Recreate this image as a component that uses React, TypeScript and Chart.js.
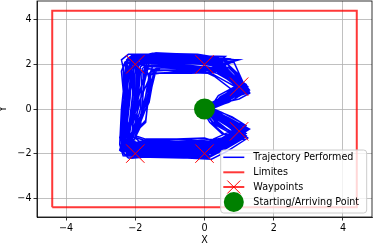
import React, { useEffect, useRef } from "react";
import { Chart, registerables } from "chart.js";

Chart.register(...registerables);

// Trajectory performed (several laps, hand-estimated)
const trajX = [
  0.05, 0.55, 1.05, 0.45, 0.0, -1.0, -2.05, -2.2, -2.05, -2.0, -1.7, -0.5, 0.35, 1.1, 0.55,
  0.1, 0.7, 1.15, 0.6, 0.1, -1.1, -2.2, -2.35, -2.25, -2.25, -1.9, -0.6, 0.3, 1.2, 0.6,
  0.0, 0.45, 0.95, 0.3, -0.1, -1.2, -2.1, -2.3, -1.8, -1.75, -1.5, -0.4, 0.5, 1.05, 0.45,
  0.15, 0.75, 1.2, 0.55, 0.05, -0.9, -2.3, -2.4, -2.3, -2.35, -2.1, -1.2, 0.1, 0.45, 1.25, 0.65,
  0.05, 0.6, 1.0, 0.4, -0.05, -1.3, -1.9, -2.0, -1.65, -1.6, -1.3, -0.2, 0.55, 1.0, 0.4,
  0.1, 0.65, 1.1, 0.35, -0.1, -1.1, -2.2, -2.4, -2.35, -2.15, -2.0, -1.0, 0.2, 0.8, 0.5, 1.15, 0.5,
  0.0, 0.5, 1.0, 0.5, 0.2, -1.5, -2.0, -2.15, -1.95, -1.9, -1.8, -0.8, 0.0, 0.4, 1.15, 0.55,
  0.05, 0.8, 1.1, 0.45, 0.0, -1.0, -2.15, -2.3, -2.15, -2.1, -2.2, -1.5, -0.2, 0.35, 1.2, 0.6,
  0.1, 0.6, 1.05, 0.5, 0.05, -0.9, -2.1, -2.25, -1.7, -1.55, -1.35, -0.3, 0.3, 1.1, 0.55,
  0.0, 0.55, 1.15, 0.55, 0.1, -1.2, -2.3, -2.4, -2.2, -2.3, -2.0, -1.0, 0.3, 0.9, 0.4, 1.2, 0.6,
  0.1, 0.7, 1.05, 0.4, -0.1, -1.4, -1.95, -2.1, -1.85, -1.8, -1.6, -0.6, 0.2, 0.45, 1.05, 0.5,
  0.05, 0.65, 1.2, 0.6, 0.1, -0.6, -1.8, -2.3, -2.3, -2.2, -2.05, -1.0, 0.2, 0.4, 1.25, 0.55,
  0.1, 0.6, 1.0, 0.5, 0.0, -1.6, -2.15, -2.25, -2.0, -1.95, -1.75, -0.7, 0.1, 0.5, 1.1, 0.5,
  0.05, 0.7, 1.1, 0.45, 0.05, -1.0, -2.2, -2.35, -2.1, -2.05, -1.85, -0.4, 0.3, 1.15, 0.55,
  0.0, 0.6, 1.05, 0.4, -0.05, -1.3, -2.05, -2.2, -1.6, -1.45, -1.2, -0.3, 0.35, 1.05, 0.0,
  0.05, 0.5, 0.9, 0.25, -0.2, -1.0, -1.75, -2.05, -2.1, -1.9, -1.85, -1.6, -0.9, 0.0, 0.25, 0.95, 0.3,
  0.1, 0.75, 1.25, 0.65, 0.2, -0.5, -1.5, -2.35, -2.45, -2.4, -2.3, -2.4, -2.2, -1.4, -0.3, 0.6, 1.3, 0.7,
  0.0, 0.6, 1.1, 0.5, 0.0, -1.2, -2.0, -2.3, -2.0, -1.6, -1.5, -1.45, -0.9, 0.1, 0.55, 1.15, 0.45,
  0.05, 0.65, 1.15, 0.5, 0.05, -1.1, -2.1, -2.3, -2.35, -2.25, -2.2, -2.25, -1.6, -0.5, 0.6, 0.35, 1.2, 0.55,
  0.1, 0.55, 1.0, 0.35, -0.1, -1.3, -2.2, -2.4, -1.95, -1.75, -1.7, -1.45, -0.5, 0.4, 1.0, 0.45,
  0.05, 0.7, 1.2, 0.55, 0.15, -1.0, -2.1, -2.25, -2.0, -2.05, -1.95, -1.3, -0.2, 0.7, 0.4, 1.2, 0.6,
  0.0, 0.5, 1.05, 0.45, -0.05, -1.5, -2.05, -2.2, -1.7, -1.6, -1.55, -1.3, -0.4, 0.3, 1.1, 0.5,
  0.1, 0.6, 1.1, 0.5, 0.1, -1.0, -1.9, -2.4, -2.4, -2.3, -2.35, -2.2, -1.1, 0.0, 0.5, 1.25, 0.6,
  0.05, 0.55, 0.95, 0.35, -0.1, -1.1, -2.0, -2.15, -2.05, -1.85, -1.7, -1.75, -0.9, 0.2, 1.05, 0.5,
  0.0, 0.65, 1.2, 0.5, 0.0, -1.3, -2.25, -2.45, -2.3, -2.0, -1.9, -2.0, -1.6, -0.6, 0.4, 0.85, 1.2, 0.55,
  0.1, 0.6, 1.05, 0.45, 0.0, -0.8, -1.9, -2.1, -1.9, -1.7, -1.6, -1.5, -1.0, 0.0, 0.45, 1.1, 0.5,
  0.05, 0.7, 1.15, 0.6, 0.1, -0.9, -2.0, -2.3, -2.25, -2.15, -2.1, -2.0, -1.2, -0.1, 0.5, 1.2, 0.55,
  0.0, 0.55, 1.1, 0.45, 0.05, -1.2, -2.2, -2.35, -2.25, -2.3, -2.0, -1.5, -0.5, 0.2, 1.15, 0.5,
  0.1, 0.65, 1.05, 0.4, -0.05, -1.2, -1.85, -2.0, -1.85, -1.65, -1.55, -1.35, -0.6, 0.15, 0.4, 1.05, 0.45,
  0.05, 0.6, 1.15, 0.55, 0.1, -0.7, -1.6, -2.25, -2.4, -2.35, -2.2, -2.15, -1.7, -0.8, 0.3, 0.5, 1.2, 0.05,
  0.15, 0.45, 0.9, 1.2, 0.7, 0.3, -0.4, -1.6, -2.3, -2.4, -2.2, -2.1, -1.4, -0.2, 0.5, 0.95, 1.3, 0.8, 0.25,
  0.0, 0.2, 0.75, 0.95, 0.2, 0.0, -0.8, -1.7, -2.0, -1.8, -1.55, -1.45, -0.8, 0.1, 0.3, 0.85, 0.25,
  0.1, 0.6, 1.1, 0.8, 0.35, -0.6, -1.9, -2.25, -2.2, -2.05, -2.15, -1.2, -0.4, 0.55, 0.75, 1.1, 0.6, 0.1,
  0.05, 0.35, 1.0, 0.6, 0.05, -1.1, -2.1, -2.35, -1.9, -1.6, -1.7, -0.5, 0.35, 1.15, 0.7, 0.2,
  0.1, 0.7, 1.3, 0.9, 0.4, -0.3, -1.2, -2.05, -2.3, -2.25, -1.95, -1.8, -1.0, 0.0, 0.6, 1.05, 0.4,
  0.0, 0.4, 0.85, 0.3, -0.2, -1.3, -2.1, -2.2, -1.85, -1.75, -1.6, -0.7, 0.2, 0.7, 1.25, 0.65, 0.1,
  0.1, 0.55, 1.05, 0.55, 0.2, -0.8, -2.25, -2.45, -2.3, -2.4, -2.3, -1.1, 0.1, 0.45, 1.2, 0.75, 0.2,
  0.05, 0.8, 1.2, 0.75, 0.1, -0.5, -1.4, -2.15, -2.3, -2.0, -1.9, -2.05, -1.5, -0.2, 0.4, 1.0, 0.35,
  0.0, 0.3, 0.95, 0.5, 0.0, -1.4, -2.05, -2.2, -1.9, -1.55, -1.4, -0.6, 0.1, 0.5, 1.15, 0.5,
  0.1, 0.75, 1.15, 0.65, 0.1, -1.0, -2.0, -2.35, -2.35, -2.2, -2.25, -2.1, -0.9, 0.3, 1.0, 0.55, 1.2, 0.6, 0.15,
  0.2, 0.5, 1.0, 1.25, 0.6, 0.2, -1.0, -2.0, -2.2, -2.0, -1.9, -1.0, 0.2, 0.6, 1.3, 1.0, 0.3,
  0.0, 0.15, 0.5, 1.1, 0.4, -0.3, -1.5, -2.15, -2.3, -2.15, -2.0, -0.9, 0.0, 0.35, 0.9, 1.0, 0.6, 0.2,
  0.15, 0.4, 0.8, 1.2, 0.8, 0.3, -0.9, -2.2, -2.3, -2.2, -2.25, -1.7, -0.6, 0.5, 0.6, 1.2, 0.9, 0.4,
  0.05, 0.25, 0.7, 1.0, 0.3, -0.6, -1.8, -2.1, -1.95, -1.85, -1.3, -0.2, 0.3, 0.8, 1.25, 0.5, 0.0,
];
const trajY = [
  -0.05, -0.55, -1.0, -1.55, -1.8, -1.75, -1.8, -1.5, 0.1, 1.95, 2.15, 2.1, 1.95, 0.95, 0.45,
  0.0, -0.5, -0.95, -1.45, -1.6, -1.5, -1.6, -1.3, 0.3, 2.0, 2.3, 2.3, 2.1, 0.85, 0.35,
  -0.1, -0.7, -1.2, -1.75, -2.0, -1.95, -2.05, -1.75, -0.2, 1.75, 2.0, 1.95, 1.8, 1.05, 0.55,
  -0.05, -0.65, -1.1, -1.7, -1.9, -1.85, -1.9, -1.5, 0.0, 1.9, 2.35, 2.3, 2.2, 2.0, 0.8, 0.4,
  0.05, -0.45, -0.85, -1.4, -1.5, -1.4, -1.45, -1.2, 0.2, 1.6, 1.85, 1.8, 1.65, 1.1, 0.6,
  -0.1, -0.75, -1.3, -1.85, -2.15, -2.1, -2.2, -1.9, -0.5, 1.85, 2.2, 2.4, 2.3, 2.1, 1.9, 1.0, 0.35,
  0.0, -0.6, -1.1, -1.6, -1.75, -1.7, -1.75, -1.45, -0.3, 1.7, 2.05, 2.0, 2.05, 1.85, 0.9, 0.5,
  -0.15, -0.8, -1.15, -1.65, -2.05, -2.0, -1.95, -1.6, 0.5, 2.05, 2.3, 2.25, 2.2, 2.05, 1.0, 0.5,
  0.05, -0.5, -1.05, -1.5, -1.7, -1.6, -1.7, -1.4, -0.6, 1.55, 1.75, 1.7, 1.75, 1.0, 0.4,
  -0.05, -0.65, -1.2, -1.75, -2.0, -2.0, -2.05, -1.7, 0.2, 2.1, 2.4, 2.35, 2.3, 2.2, 2.0, 0.9, 0.4,
  -0.05, -0.6, -0.95, -1.45, -1.6, -1.55, -1.6, -1.3, 0.0, 1.8, 2.1, 2.05, 2.0, 1.9, 0.95, 0.45,
  0.0, -0.7, -1.25, -1.8, -2.2, -2.15, -2.1, -1.85, -0.8, 1.9, 2.2, 2.15, 2.15, 1.95, 0.85, 0.35,
  -0.1, -0.55, -1.0, -1.55, -1.75, -1.65, -1.7, -1.45, 0.5, 1.85, 2.2, 2.2, 2.1, 1.85, 1.0, 0.45,
  -0.05, -0.75, -1.05, -1.6, -1.85, -1.8, -1.8, -1.55, -0.2, 2.0, 2.25, 2.15, 2.0, 0.95, 0.45,
  0.0, -0.6, -1.1, -1.7, -1.9, -1.85, -1.9, -1.6, 0.3, 1.6, 1.95, 1.9, 1.85, 1.0, 0.0,
  0.0, -0.5, -0.9, -1.35, -1.4, -1.35, -1.4, -1.25, -0.4, 0.8, 1.65, 1.8, 1.7, 1.65, 1.55, 0.95, 0.3,
  -0.05, -0.7, -1.3, -1.9, -2.25, -2.2, -2.15, -2.1, -1.6, 0.0, 1.5, 2.2, 2.45, 2.45, 2.4, 2.15, 0.85, 0.3,
  -0.05, -0.65, -1.15, -1.65, -1.8, -1.75, -1.85, -1.55, -0.8, 0.5, 1.4, 1.7, 1.75, 1.7, 1.7, 0.95, 0.4,
  -0.1, -0.6, -1.0, -1.5, -1.7, -1.65, -1.7, -1.45, -0.7, 0.6, 1.5, 2.15, 2.4, 2.4, 2.35, 2.05, 0.9, 0.4,
  0.0, -0.55, -0.95, -1.5, -1.65, -1.6, -1.7, -1.4, -0.2, 1.0, 1.85, 2.0, 1.85, 1.8, 1.05, 0.5,
  -0.05, -0.7, -1.2, -1.75, -2.1, -2.05, -2.15, -1.8, -0.6, 1.2, 2.3, 2.45, 2.35, 2.25, 2.05, 0.95, 0.4,
  -0.05, -0.5, -1.05, -1.45, -1.55, -1.5, -1.55, -1.35, -0.5, 0.7, 1.55, 1.6, 1.6, 1.65, 0.95, 0.4,
  -0.1, -0.7, -1.2, -1.7, -1.95, -1.9, -1.9, -1.65, -0.9, 0.5, 1.9, 2.3, 2.35, 2.3, 2.05, 0.85, 0.4,
  0.0, -0.5, -0.95, -1.6, -1.85, -1.8, -1.9, -1.7, -0.5, 0.9, 1.65, 1.95, 1.9, 1.85, 1.05, 0.5,
  -0.05, -0.7, -1.25, -1.8, -2.05, -2.05, -2.1, -1.85, -1.0, 0.0, 1.2, 2.0, 2.2, 2.15, 2.05, 2.1, 0.9, 0.35,
  0.0, -0.55, -1.1, -1.5, -1.65, -1.55, -1.55, -1.4, -0.6, 0.6, 1.5, 1.9, 1.95, 1.9, 1.8, 1.0, 0.45,
  -0.05, -0.6, -1.05, -1.55, -1.75, -1.7, -1.75, -1.5, -0.3, 0.9, 1.8, 2.1, 2.1, 2.0, 1.9, 1.0, 0.4,
  -0.1, -0.65, -1.15, -1.7, -2.0, -1.95, -2.0, -1.7, 0.0, 1.4, 2.25, 2.35, 2.3, 2.2, 0.95, 0.45,
  0.0, -0.55, -0.95, -1.4, -1.55, -1.45, -1.5, -1.3, -0.4, 0.9, 1.7, 1.85, 1.8, 1.75, 1.75, 1.05, 0.5,
  -0.05, -0.7, -1.2, -1.8, -2.15, -2.1, -2.05, -2.0, -1.3, 0.2, 1.6, 2.1, 2.35, 2.3, 2.25, 2.0, 0.9, 0.05,
  0.1, -0.2, -0.6, -0.95, -1.4, -1.65, -1.75, -1.7, -1.75, -1.4, 0.4, 2.25, 2.5, 2.45, 2.25, 1.6, 0.75, 0.5, 0.15,
  -0.15, -0.55, -1.0, -1.15, -1.4, -1.3, -1.35, -1.35, -1.2, -0.3, 1.2, 1.6, 1.65, 1.6, 1.45, 0.8, 0.25,
  0.0, -0.35, -0.85, -1.3, -1.95, -2.2, -2.15, -2.0, -1.0, 1.0, 2.15, 2.35, 2.2, 2.0, 1.65, 1.05, 0.6, 0.2,
  -0.1, -0.65, -1.2, -1.6, -1.7, -1.6, -1.65, -1.5, 0.3, 1.35, 1.9, 1.85, 1.7, 0.75, 0.55, 0.05,
  0.05, -0.4, -0.9, -1.3, -1.55, -1.6, -1.55, -1.6, -1.2, 0.2, 1.9, 2.25, 2.35, 2.3, 2.15, 1.2, 0.3,
  -0.05, -0.6, -1.15, -1.85, -2.2, -2.1, -2.2, -1.9, -0.8, 1.1, 2.05, 2.1, 2.05, 1.85, 1.0, 0.6, 0.1,
  0.05, -0.45, -1.0, -1.5, -1.6, -1.55, -1.55, -1.3, 0.0, 1.7, 2.1, 2.15, 2.1, 1.75, 0.95, 0.45, 0.0,
  -0.1, -0.55, -0.9, -1.5, -1.95, -1.95, -1.9, -1.85, -1.4, 0.3, 1.55, 2.3, 2.5, 2.45, 2.3, 1.15, 0.35,
  -0.1, -0.7, -1.25, -1.65, -1.65, -1.55, -1.55, -1.35, -0.6, 0.8, 1.75, 1.75, 1.7, 1.55, 1.05, 0.5,
  0.0, -0.6, -1.05, -1.55, -2.05, -2.1, -2.1, -1.8, -0.3, 1.5, 2.2, 2.4, 2.4, 2.25, 2.2, 2.0, 0.8, 0.35, 0.05,
  0.05, -0.15, -0.55, -0.9, -1.5, -1.7, -1.65, -1.7, -1.4, 0.5, 2.0, 2.15, 2.1, 1.8, 0.7, 0.45, 0.2,
  -0.2, -0.6, -1.1, -1.35, -1.45, -1.45, -1.45, -1.5, -1.1, 0.9, 2.25, 2.3, 2.25, 1.95, 1.45, 0.75, 0.25, 0.0,
  0.0, -0.1, -0.35, -0.75, -1.35, -1.9, -2.0, -1.95, -1.6, 0.1, 2.05, 2.3, 2.3, 2.1, 1.7, 1.1, 0.7, 0.35,
  -0.1, -0.7, -1.3, -1.2, -1.55, -1.85, -1.8, -1.6, -0.2, 1.9, 2.4, 2.35, 2.2, 1.55, 0.9, 0.2, 0.0,
];

const limitX = [-4.4, 4.4, 4.4, -4.4, -4.4];
const limitY = [-4.4, -4.4, 4.4, 4.4, -4.4];

const waypointX = [1, 0, -2, -2, 0, 1];
const waypointY = [-1, -2, -2, 2, 2, 1];

const startX = [0];
const startY = [0];

const tickValues = [-4, -2, 0, 2, 4];
const axisMin = -4.84;
const axisMax = 4.84;

const seriesLabels = ["Trajectory Performed", "Limites", "Waypoints", "Starting/Arriving Point"];

const FONT = "DejaVu Sans";
const FS = 9.6;

const toPoints = (xs: number[], ys: number[]) => {
  const n = Math.min(xs.length, ys.length);
  const out: { x: number; y: number }[] = [];
  for (let i = 0; i < n; i++) out.push({ x: xs[i], y: ys[i] });
  return out;
};

const fmt = (v: number | string) => String(v).replace("-", "\u2212");

const framePlugin = {
  id: "mplFrame",
  afterDraw(chart: any) {
    const ctx = chart.ctx;
    const { left, right, top, bottom } = chart.chartArea;
    ctx.save();
    ctx.strokeStyle = "#000";
    ctx.lineWidth = 0.8;
    ctx.strokeRect(left, top, right - left, bottom - top);

    // legend
    const bw = 146;
    const bh = 63;
    const bx = right - 5.3 - bw;
    const by = bottom - 4 - bh;
    ctx.beginPath();
    if ((ctx as any).roundRect) (ctx as any).roundRect(bx, by, bw, bh, 3);
    else ctx.rect(bx, by, bw, bh);
    ctx.fillStyle = "rgba(255,255,255,0.8)";
    ctx.fill();
    ctx.strokeStyle = "#cccccc";
    ctx.lineWidth = 1;
    ctx.stroke();

    const ds = chart.data.datasets;
    const rowY = [7.3, 22.3, 37, 52];
    const hx0 = bx + 2.6;
    const hx1 = bx + 23.6;
    const hc = (hx0 + hx1) / 2;
    ctx.font = `${FS}px "${FONT}"`;
    ctx.textBaseline = "middle";
    ctx.textAlign = "left";
    for (let i = 0; i < ds.length; i++) {
      const y = by + rowY[i];
      const d = ds[i];
      if (d.showLine || i === 2) {
        ctx.beginPath();
        ctx.moveTo(hx0, y);
        ctx.lineTo(hx1, y);
        ctx.strokeStyle = i === 2 ? "rgba(255,0,0,0.78)" : d.borderColor;
        ctx.lineWidth = i === 2 ? 2 : d.borderWidth;
        ctx.stroke();
      }
      if (i === 2) {
        ctx.beginPath();
        const r = 6.5;
        ctx.moveTo(hc - r, y - r);
        ctx.lineTo(hc + r, y + r);
        ctx.moveTo(hc - r, y + r);
        ctx.lineTo(hc + r, y - r);
        ctx.strokeStyle = "red";
        ctx.lineWidth = 1;
        ctx.stroke();
      }
      if (i === 3) {
        ctx.beginPath();
        ctx.arc(hc, y, 10, 0, Math.PI * 2);
        ctx.fillStyle = d.backgroundColor;
        ctx.fill();
      }
      ctx.fillStyle = "#000";
      ctx.fillText(d.label, bx + 32.6, y);
    }
    ctx.restore();
  },
};

export default function App() {
  const ref = useRef<HTMLCanvasElement | null>(null);
  useEffect(() => {
    if (!ref.current) return;
    const axis = (title: string, isX: boolean) => ({
      type: "linear" as const,
      min: axisMin,
      max: axisMax,
      afterBuildTicks: (s: any) => {
        s.ticks = tickValues.map((v) => ({ value: v }));
      },
      afterFit: (s: any) => {
        if (isX) s.height = 29;
        else s.width = 37;
        s.paddingTop = 0;
        s.paddingBottom = 0;
        s.paddingLeft = 0;
        s.paddingRight = 0;
      },
      ticks: {
        color: "#000",
        padding: 2,
        autoSkip: false,
        maxRotation: 0,
        font: { family: FONT, size: FS },
        callback: (v: any) => fmt(v),
      },
      grid: {
        color: "#b0b0b0",
        lineWidth: 0.8,
        tickColor: "#000",
        tickLength: 3.5,
        drawTicks: true,
      },
      border: { display: true, color: "#000", width: 0.8 },
      title: {
        display: true,
        text: title,
        color: "#000",
        font: { family: FONT, size: FS },
        padding: isX ? { top: 0, bottom: 0 } : { top: -2, bottom: 0 },
      },
    });
    const chart = new Chart(ref.current, {
      type: "scatter",
      data: {
        datasets: [
          {
            label: seriesLabels[0],
            data: toPoints(trajX, trajY),
            showLine: true,
            borderColor: "#0000ff",
            backgroundColor: "#0000ff",
            borderWidth: 1.5,
            pointRadius: 0,
            tension: 0,
            order: 4,
          },
          {
            label: seriesLabels[1],
            data: toPoints(limitX, limitY),
            showLine: true,
            borderColor: "rgba(255,0,0,0.78)",
            backgroundColor: "rgba(255,0,0,0.78)",
            borderWidth: 2,
            pointRadius: 0,
            order: 3,
          },
          {
            label: seriesLabels[2],
            data: toPoints(waypointX, waypointY),
            showLine: false,
            borderColor: "red",
            backgroundColor: "red",
            pointStyle: "crossRot",
            pointRadius: 13,
            pointBorderWidth: 1,
            order: 2,
          },
          {
            label: seriesLabels[3],
            data: toPoints(startX, startY),
            showLine: false,
            borderColor: "#008000",
            backgroundColor: "#008000",
            pointRadius: 10.5,
            pointBorderWidth: 0,
            order: 1,
          },
        ],
      },
      options: {
        responsive: false,
        animation: false,
        devicePixelRatio: 1,
        layout: { autoPadding: false, padding: { top: 1, right: 1, left: 0, bottom: 0 } },
        plugins: { legend: { display: false }, tooltip: { enabled: false } },
        scales: { x: axis("X", true), y: axis("Y", false) },
      },
      plugins: [framePlugin],
    });
    return () => chart.destroy();
  }, []);
  return (
    <div style={{ position: "absolute", left: 0, top: 0, width: 373, height: 246, background: "#fff" }}>
      <canvas ref={ref} width={373} height={246} />
    </div>
  );
}
